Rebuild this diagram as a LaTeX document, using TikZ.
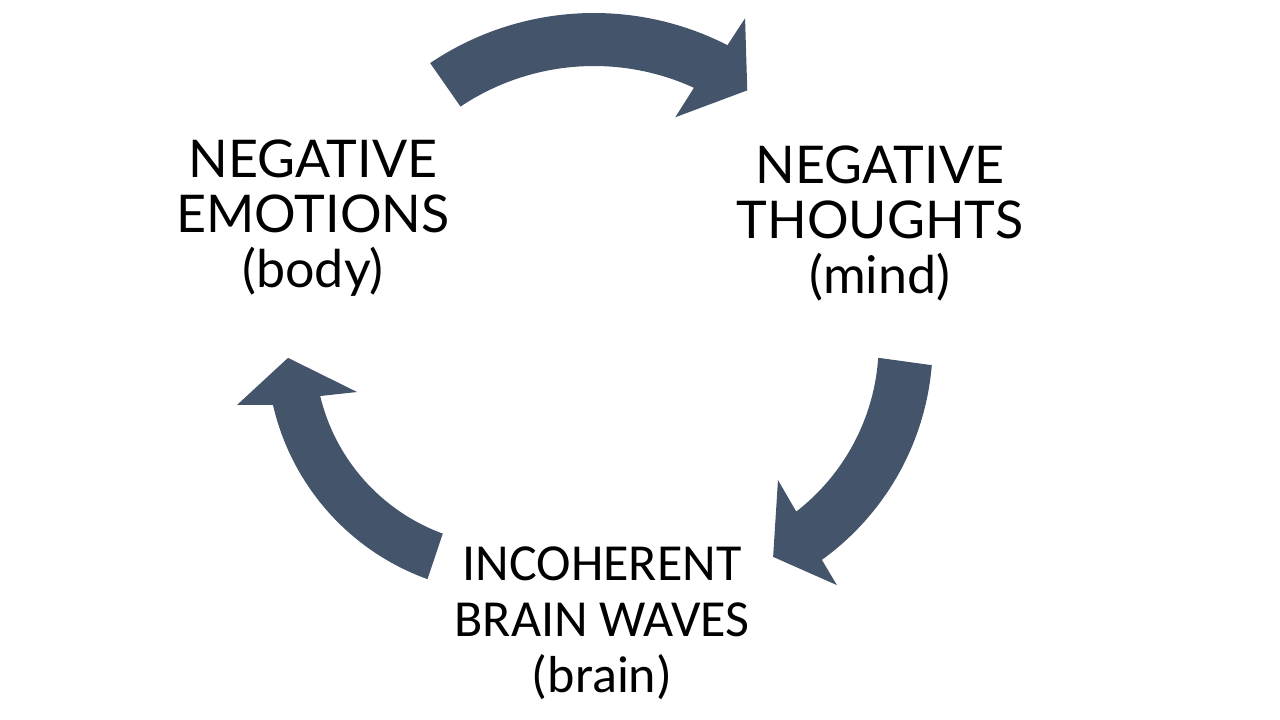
\documentclass[tikz,border=0pt]{standalone}
\usepackage{fontspec}
\setmainfont{Lato}
\newfontfamily\carlito{Carlito}
\usepackage{tikz}
\usetikzlibrary{positioning}
\definecolor{slateblue}{HTML}{44546A}

\begin{document}
\begin{tikzpicture}[
  x=1pt, y=-1pt,
  looparrow/.style={fill=slateblue, draw=none},
  stage/.style={align=center, inner sep=0pt, text=black, font=\fontsize{52}{55}\selectfont},
  stagecal/.style={stage, font=\carlito\fontsize{52}{56}\selectfont},
]
  \useasboundingbox (0,0) rectangle (1280,720);
  % arrow: emotions -> thoughts
  \begin{scope}[shift={(594,306)}]
    \fill[looparrow] (-124:293) arc[start angle=-124, end angle=-62.9, radius=293]
      -- (-62.3:325) -- (-54.6:264.6) -- (-66.7:205.5)
      -- (-65.4:240) arc[start angle=-65.4, end angle=-123.8, radius=240] -- cycle;
  \end{scope}
  % arrow: thoughts -> brain waves
  \begin{scope}[shift={(665.7,343.3)}]
    \fill[looparrow] (4.7:267) arc[start angle=4.7, end angle=54.2, radius=267]
      -- (54.7:296.3) -- (63.3:239.1) -- (50.6:176.9)
      -- (52.2:213) arc[start angle=52.2, end angle=3.9, radius=213] -- cycle;
  \end{scope}
  % arrow: brain waves -> emotions
  \begin{scope}[shift={(509.8,350.5)}]
    \fill[looparrow] (109.8:243) arc[start angle=109.8, end angle=167.1, radius=243]
      -- (168.7:278.2) -- (178.1:221.9) -- (164.8:158.3)
      -- (166.5:195) arc[start angle=166.5, end angle=110.1, radius=195] -- cycle;
  \end{scope}
  \node[stage] (emotions) at (313,218) {NEGATIVE\\EMOTIONS\\(body)};
  \node[stage] (thoughts) at (880,223) {NEGATIVE\\THOUGHTS\\(mind)};
  \node[stagecal] (brain) at (602,623) {INCOHERENT\\BRAIN WAVES\\(brain)};
\end{tikzpicture}
\end{document}
